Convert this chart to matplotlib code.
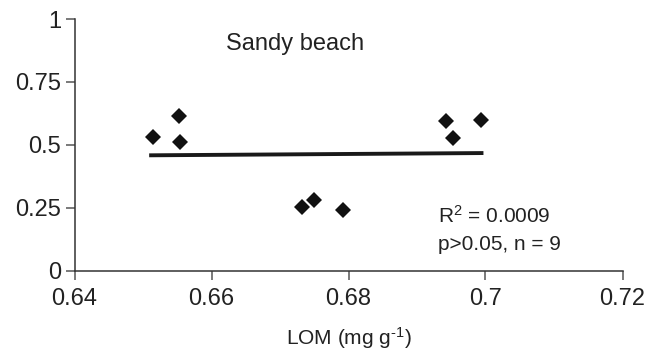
import matplotlib
matplotlib.use("Agg")
import matplotlib.pyplot as plt

plt.rcParams['font.family'] = ['Liberation Sans', 'DejaVu Sans']
plt.rcParams['mathtext.fontset'] = 'custom'
plt.rcParams['mathtext.rm'] = 'Liberation Sans'
plt.rcParams['mathtext.it'] = 'Liberation Sans:italic'
plt.rcParams['mathtext.bf'] = 'Liberation Sans:bold'

# Data
lom = [0.6515, 0.6552, 0.6554, 0.6732, 0.6750, 0.6792, 0.6942, 0.6953, 0.6994]
resp = [0.532, 0.616, 0.512, 0.254, 0.280, 0.241, 0.594, 0.526, 0.598]
fit_x = [0.6509, 0.6997]
fit_y = [0.458, 0.467]
x_ticks = [0.64, 0.66, 0.68, 0.70, 0.72]
x_tick_labels = ["0.64", "0.66", "0.68", "0.7", "0.72"]
y_ticks = [0, 0.25, 0.5, 0.75, 1]
y_tick_labels = ["0", "0.25", "0.5", "0.75", "1"]
site = "Sandy beach"
stats_lines = ["R$^{2}$ = 0.0009", "p>0.05, n = 9"]
x_label = r"LOM (mg g$^{\text{-1}}$)"

text_c = "#222222"
axis_c = "#333333"

fig = plt.figure(figsize=(6.49, 3.58), dpi=100)
ax = fig.add_axes([74.5/649, 1-270.5/358, (622.5-74.5)/649, (270.5-19)/358])

ax.plot(fit_x, fit_y, color="#1a1a1a", lw=2.8, solid_capstyle='butt', zorder=2)
ax.plot(lom, resp, linestyle='none', marker='D', ms=8.4, mew=0,
        color="#111111", zorder=3)

ax.set_xlim(0.64, 0.72)
ax.set_ylim(0, 1)
ax.set_xticks(x_ticks)
ax.set_xticklabels(x_tick_labels)
ax.set_yticks(y_ticks)
ax.set_yticklabels(y_tick_labels)

for s in ['top', 'right']:
    ax.spines[s].set_visible(False)
for s in ['left', 'bottom']:
    ax.spines[s].set_color(axis_c)
    ax.spines[s].set_linewidth(1.1)

ax.tick_params(axis='both', direction='out', length=6.5, width=1.1,
               color="#555555", labelsize=17, labelcolor=text_c)
ax.tick_params(axis='y', pad=3)
ax.tick_params(axis='x', pad=6)

ax.set_xlabel(x_label, fontsize=15, color=text_c, labelpad=11)

ax.text(0.2765, 0.877, site, transform=ax.transAxes, fontsize=17,
        color=text_c, ha='left', va='baseline')
ax.text(0.663, 0.189, stats_lines[0], transform=ax.transAxes, fontsize=15,
        color=text_c, ha='left', va='baseline')
ax.text(0.663, 0.0815, stats_lines[1], transform=ax.transAxes, fontsize=15,
        color=text_c, ha='left', va='baseline')

fig.savefig("out.png", dpi=100)
